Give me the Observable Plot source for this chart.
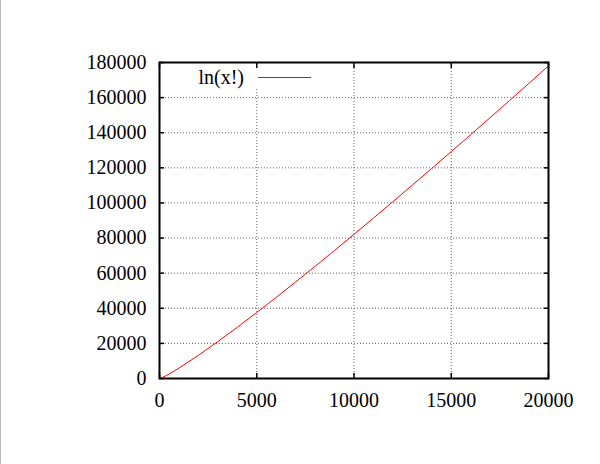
<!DOCTYPE html>
<html>
<head>
<meta charset="utf-8">
<script src="https://cdn.jsdelivr.net/npm/d3@7"></script>
<script src="https://cdn.jsdelivr.net/npm/@observablehq/plot@0.6"></script>
<style>
  html, body { margin: 0; padding: 0; background: #fff; }
  #chart { position: relative; width: 600px; height: 464px; }
  #edge { position: absolute; left: 0; top: 0; width: 1px; height: 464px; background: #bbb; }
</style>
</head>
<body>
<div id="chart"><div id="edge"></div></div>
<script>
// ln(x!)
const xs = [0, 100, 200, 300, 500, 1000, 2000, 3000, 4000, 5000, 6000, 7000, 8000, 9000, 10000,
  11000, 12000, 13000, 14000, 15000, 16000, 17000, 18000, 19000, 20000];
const lnFact = [0, 364, 863, 1415, 2611, 5912, 13206, 21024, 29181, 37591, 46202, 54981, 63903, 72950, 82109,
  91368, 100718, 110151, 119661, 129243, 138891, 148602, 158372, 168197, 178076];

const xTicks = [0, 5000, 10000, 15000, 20000];
const yTicks = [0, 20000, 40000, 60000, 80000, 100000, 120000, 140000, 160000, 180000];
const xGrid = [5000, 10000, 15000];
const yGrid = [20000, 40000, 60000, 80000, 100000, 120000, 140000, 160000];

const seriesName = "ln(x!)";
const lineColor = "#ff0000";

const points = xs.map((x, i) => ({x, y: lnFact[i]}));

const container = document.getElementById("chart");

const blank = () => "";
const plain = d3.format("d");
const plot = Plot.plot({
  width: 600,
  height: 464,
  marginLeft: 159,
  marginRight: 52,
  marginTop: 62,
  marginBottom: 86,
  x: {domain: [0, 20000]},
  y: {domain: [0, 180000]},
  style: {fontFamily: "'Liberation Serif', serif", fontSize: "20px", color: "#000", background: "transparent"},
  marks: [
    // dotted grid
    Plot.gridX(xGrid, {stroke: "#666", strokeOpacity: 1, strokeDasharray: "1,2"}),
    Plot.gridY(yGrid, {stroke: "#666", strokeOpacity: 1, strokeDasharray: "1,2"}),
    // labels
    Plot.axisX(xTicks, {tickSize: 0, tickPadding: 14, tickFormat: plain, label: null}),
    Plot.axisY(yTicks, {tickSize: 0, tickPadding: 13, tickFormat: plain, label: null}),
    // inward ticks on all four sides
    Plot.axisX(xTicks, {anchor: "bottom", tickSize: -5, tickFormat: blank, label: null, strokeWidth: 1.5}),
    Plot.axisX(xTicks, {anchor: "top", tickSize: -5, tickFormat: blank, label: null, strokeWidth: 1.5}),
    Plot.axisY(yTicks, {anchor: "left", tickSize: -5, tickFormat: blank, label: null, strokeWidth: 1.5}),
    Plot.axisY(yTicks, {anchor: "right", tickSize: -5, tickFormat: blank, label: null, strokeWidth: 1.5}),
    Plot.line(points, {x: "x", y: "y", stroke: lineColor, strokeWidth: 1}),
    Plot.frame({stroke: "#000", strokeWidth: 2})
  ]
});
container.appendChild(plot);

// key box in the top-left of the frame (white box hides the grid behind it)
const key = d3.select(plot).append("g").attr("class", "key");
key.append("rect").attr("x", 188).attr("y", 68).attr("width", 132).attr("height", 19).attr("fill", "#fff");
key.append("text").attr("x", 244).attr("y", 84).attr("text-anchor", "end")
  .attr("fill", "#000").attr("font-family", "'Liberation Serif', serif").attr("font-size", 20)
  .text(seriesName);
key.append("line").attr("x1", 258).attr("x2", 311).attr("y1", 77.5).attr("y2", 77.5)
  .attr("stroke", lineColor).attr("stroke-width", 1.2);
</script>
</body>
</html>
